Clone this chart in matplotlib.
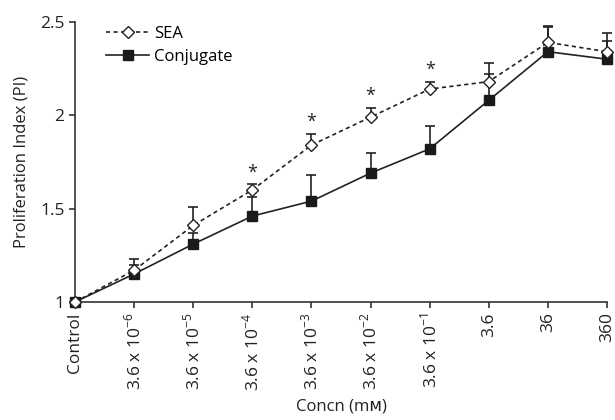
import numpy as np
import matplotlib.pyplot as plt

plt.rcParams['font.family'] = ['Open Sans', 'DejaVu Sans']
plt.rcParams['mathtext.fontset'] = 'custom'
plt.rcParams['mathtext.rm'] = 'Open Sans'

# data ----------------------------------------------------------
concn = ['Control', r'3.6 x 10$^{-6}$', r'3.6 x 10$^{-5}$', r'3.6 x 10$^{-4}$',
         r'3.6 x 10$^{-3}$', r'3.6 x 10$^{-2}$', r'3.6 x 10$^{-1}$',
         '3.6', '36', '360']
sea = [1.0, 1.17, 1.41, 1.60, 1.84, 1.99, 2.14, 2.18, 2.39, 2.34]
sea_err = [0.0, 0.06, 0.10, 0.03, 0.06, 0.05, 0.04, 0.04, 0.08, 0.06]
conj = [1.0, 1.15, 1.31, 1.46, 1.54, 1.69, 1.82, 2.08, 2.34, 2.30]
conj_err = [0.0, 0.05, 0.06, 0.10, 0.14, 0.11, 0.12, 0.20, 0.14, 0.14]
signif = [3, 4, 5, 6]   # indices with *
# ---------------------------------------------------------------

x = np.arange(len(concn))
sea = np.array(sea); conj = np.array(conj)
sea_err = np.array(sea_err); conj_err = np.array(conj_err)

fig = plt.figure(figsize=(6.15, 4.2), dpi=100)
ax = fig.add_axes([0.122, 0.281, 0.865, 0.667])

# error bars (upper only)
ax.errorbar(x, conj, yerr=[np.zeros_like(conj_err), conj_err], fmt='none',
            ecolor='#222222', elinewidth=1.2, capsize=3.5, capthick=1.2, zorder=2, clip_on=False)
ax.errorbar(x, sea, yerr=[np.zeros_like(sea_err), sea_err], fmt='none',
            ecolor='#222222', elinewidth=1.2, capsize=3.5, capthick=1.2, zorder=2, clip_on=False)

ax.plot(x, sea, linestyle=(0, (2.5, 2)), color='#222222', lw=1.2, marker='D', ms=6.5,
        mfc='white', mec='#222222', mew=1.0, label='SEA', zorder=4, clip_on=False)
ax.plot(x, conj, linestyle='-', color='#222222', lw=1.2, marker='s', ms=7.5,
        mfc='#1a1a1a', mec='#1a1a1a', label='Conjugate', zorder=3, clip_on=False)

for i in signif:
    ax.text(x[i], sea[i] + sea_err[i] + 0.015, '*', ha='center', va='bottom',
            fontsize=13, color='#222222')

ax.set_xlim(0, len(concn) - 1)
ax.set_ylim(1, 2.5)
ax.set_yticks([1, 1.5, 2, 2.5])
ax.set_yticklabels(['1', '1.5', '2', '2.5'], fontsize=12.5)
ax.set_xticks(x)
ax.set_xticklabels(concn, rotation=90, fontsize=12.5)

for s in ['top', 'right']:
    ax.spines[s].set_visible(False)
for s in ['left', 'bottom']:
    ax.spines[s].set_linewidth(1.2)
    ax.spines[s].set_color('#333333')
ax.tick_params(direction='out', length=4, width=1.2, color='#333333', labelcolor='#222222')

ax.set_ylabel('Proliferation Index (PI)', fontsize=12, color='#222222', labelpad=8)
ax.set_xlabel('Concn (mᴍ)', fontsize=12, color='#222222', labelpad=6)

ax.legend(loc='upper left', bbox_to_anchor=(0.03, 1.04), frameon=False, fontsize=12,
          handlelength=2.6, handletextpad=0.3, labelspacing=0.45)

fig.savefig('out.png', dpi=100)
